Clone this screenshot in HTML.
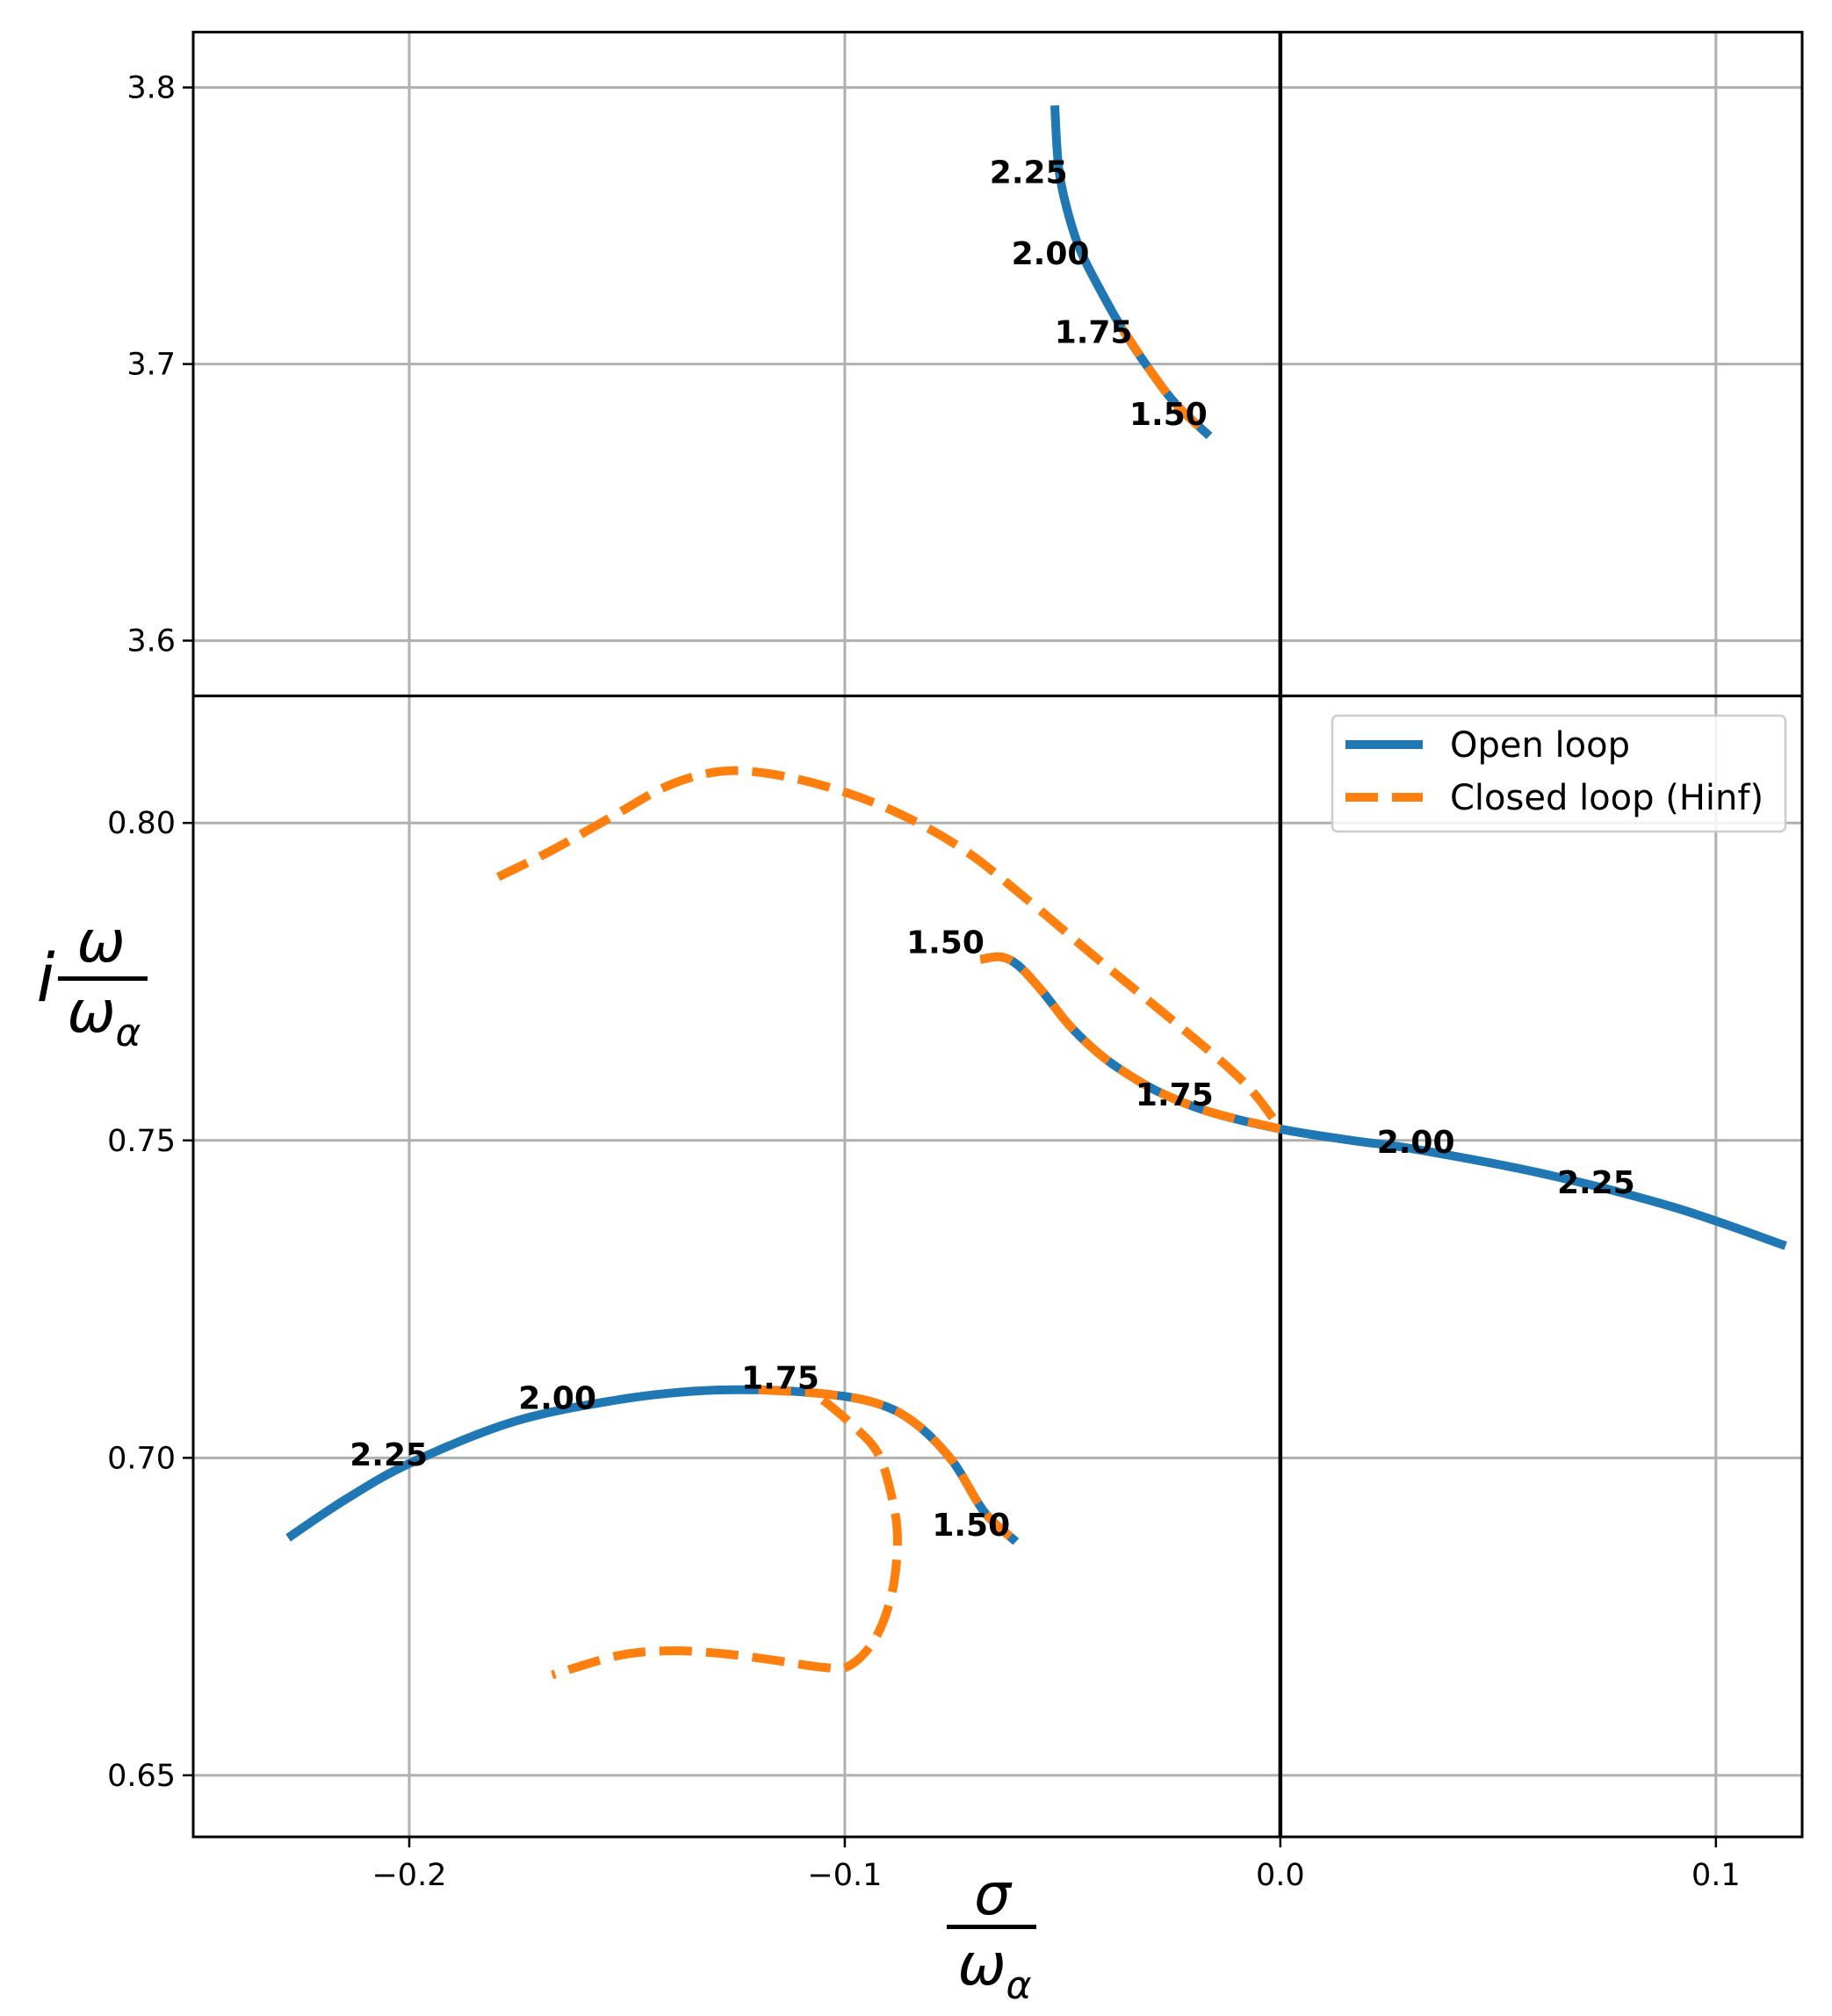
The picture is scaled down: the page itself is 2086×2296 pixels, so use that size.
<!DOCTYPE html>
<html><head><meta charset="utf-8"><style>
html,body{margin:0;padding:0;background:#fff;}
svg{display:block;font-family:"DejaVu Sans","Liberation Sans",sans-serif;}
</style></head><body>
<svg id="chart" width="2086" height="2296" viewBox="0 0 2086 2296" xmlns="http://www.w3.org/2000/svg">
<g id="layer"></g>
</svg>
<script>
const xTicks=[-0.2,-0.1,0.0,0.1];
const xTickLabels=["\u22120.2","\u22120.1","0.0","0.1"];
const topYTicks=[3.6,3.7,3.8];
const topYTickLabels=["3.6","3.7","3.8"];
const botYTicks=[0.65,0.70,0.75,0.80];
const botYTickLabels=["0.65","0.70","0.75","0.80"];
// top panel
const topOpenX=[-0.0518,-0.0509,-0.0488,-0.0459,-0.0414,-0.0364,-0.0296,-0.0237,-0.0163];
const topOpenY=[3.7935,3.771,3.755,3.741,3.727,3.713,3.697,3.685,3.674];
const topClosedX=[-0.0364,-0.0296,-0.0237,-0.0163];
const topClosedY=[3.713,3.697,3.685,3.674];
// bottom panel right branch
const rOpenX=[-0.0689,-0.0642,-0.0601,-0.0547,-0.0488,-0.0429,-0.0370,-0.0281,-0.0163,0,0.0163,0.0311,0.0607,0.0902,0.116];
const rOpenY=[0.7785,0.7789,0.7775,0.7735,0.7684,0.7644,0.7613,0.7577,0.7545,0.7518,0.7500,0.7486,0.7447,0.7395,0.7334];
const rClosedX=[-0.0689,-0.0642,-0.0601,-0.0547,-0.0488,-0.0429,-0.0370,-0.0281,-0.0163,0];
const rClosedY=[0.7785,0.7789,0.7775,0.7735,0.7684,0.7644,0.7613,0.7577,0.7545,0.7518];
const uClosedX=[-0.1796,-0.1672,-0.1524,-0.1405,-0.1287,-0.1169,-0.1021,-0.0873,-0.0725,-0.0577,-0.0429,-0.0281,-0.0133,-0.0059,0];
const uClosedY=[0.7915,0.7957,0.8014,0.8059,0.8081,0.8077,0.8053,0.8014,0.7957,0.7877,0.7791,0.7708,0.7623,0.7573,0.7518];
// bottom panel left branch
const lOpenX=[-0.2278,-0.2145,-0.1997,-0.1760,-0.1524,-0.1346,-0.1198,-0.1050,-0.0932,-0.0843,-0.0754,-0.0680,-0.0607];
const lOpenY=[0.6874,0.6935,0.6992,0.7057,0.7091,0.7105,0.7107,0.7101,0.7087,0.7057,0.6996,0.6915,0.6868];
const lClosedX=[-0.1198,-0.1050,-0.0932,-0.0843,-0.0754,-0.0680,-0.0607];
const lClosedY=[0.7107,0.7101,0.7087,0.7057,0.6996,0.6915,0.6868];
const bClosedX=[-0.1050,-0.0991,-0.0923,-0.0888,-0.0879,-0.0893,-0.0932,-0.0991,-0.1050,-0.1169,-0.1287,-0.1405,-0.1524,-0.1672];
const bClosedY=[0.7091,0.7057,0.7006,0.6925,0.6864,0.6783,0.6713,0.6672,0.6670,0.6682,0.6692,0.6696,0.6688,0.6658];
// annotations
const topLabels=["2.25","2.00","1.75","1.50"];
const topLabelX=[-0.0578,-0.0528,-0.0429,-0.0257];
const topLabelY=[3.7695,3.7402,3.7118,3.6821];
const botLabels=["1.50","1.75","2.00","2.25","2.00","2.25","1.75","1.50"];
const botLabelX=[-0.0769,-0.0243,0.0311,0.0725,-0.1660,-0.2047,-0.1148,-0.0710];
const botLabelY=[0.7813,0.7573,0.7498,0.7435,0.7095,0.7006,0.7127,0.6895];

const L=220,R=2052,T=36.6,MID=792.6,B=2092;
const xmin=-0.2496,xmax=0.1198;
const X=v=>L+(v-xmin)/(xmax-xmin)*(R-L);
const Yt=v=>T+(3.82-v)/(3.82-3.58)*(MID-T);
const Yb=v=>MID+(0.82-v)/(0.82-0.6403)*(B-MID);
const NS="http://www.w3.org/2000/svg";
const layer=document.getElementById('layer');
function mk(tag,attrs,parent){const e=document.createElementNS(NS,tag);for(const k in attrs)e.setAttribute(k,attrs[k]);(parent||layer).appendChild(e);return e;}

xTicks.forEach((v,i)=>{
  const g=mk('line',{x1:X(v),x2:X(v),y1:T,y2:B,stroke:'#b0b0b0','stroke-width':3});
  
  
  const t=mk('line',{x1:X(v),x2:X(v),y1:B,y2:B+12,stroke:'#000','stroke-width':2.5});
  
  
  const lb=mk('text',{x:X(v),y:B+55,'text-anchor':'middle','font-size':35,fill:'#000'});
  lb.textContent=xTickLabels[i];
  
  
});
function yt(arr,labels,Yf){
  arr.forEach((v,i)=>{
    const g=mk('line',{x1:L,x2:R,y1:Yf(v),y2:Yf(v),stroke:'#b0b0b0','stroke-width':3});
    
    
    const t=mk('line',{x1:L-12,x2:L,y1:Yf(v),y2:Yf(v),stroke:'#000','stroke-width':2.5});
    
    
    const lb=mk('text',{x:L-20,y:Yf(v)+12,'text-anchor':'end','font-size':35,fill:'#000'});
    lb.textContent=labels[i];
    
    
  });
}
yt(topYTicks,topYTickLabels,Yt);
yt(botYTicks,botYTickLabels,Yb);

const z=mk('line',{x1:X(0),x2:X(0),y1:T,y2:B,stroke:'#000','stroke-width':4.5});



function path(xs,ys,Yf,color,dash,name){
  const P=xs.map((v,i)=>[X(v),Yf(ys[i])]);
  let d='M'+P[0][0].toFixed(1)+','+P[0][1].toFixed(1);
  for(let i=0;i<P.length-1;i++){
    const p0=P[i-1]||P[i],p1=P[i],p2=P[i+1],p3=P[i+2]||P[i+1];
    const c1=[p1[0]+(p2[0]-p0[0])/6,p1[1]+(p2[1]-p0[1])/6];
    const c2=[p2[0]-(p3[0]-p1[0])/6,p2[1]-(p3[1]-p1[1])/6];
    d+=' C'+c1[0].toFixed(1)+','+c1[1].toFixed(1)+' '+c2[0].toFixed(1)+','+c2[1].toFixed(1)+' '+p2[0].toFixed(1)+','+p2[1].toFixed(1);
  }
  const a={d:d,fill:'none',stroke:color,'stroke-width':10,'stroke-linejoin':'round'};
  if(dash){a['stroke-dasharray']='37,16';}
  const p=mk('path',a);
  
  
}
const BLUE='#1f77b4',OR='#ff7f0e';
path(topOpenX,topOpenY,Yt,BLUE,false,'open-loop-top');
path(topClosedX,topClosedY,Yt,OR,true,'closed-loop-top');
path(rOpenX,rOpenY,Yb,BLUE,false,'open-loop-right');
path(lOpenX,lOpenY,Yb,BLUE,false,'open-loop-left');
path(rClosedX,rClosedY,Yb,OR,true,'closed-loop-right');
path(uClosedX,uClosedY,Yb,OR,true,'closed-loop-upper');
path(lClosedX,lClosedY,Yb,OR,true,'closed-loop-left');
path(bClosedX,bClosedY,Yb,OR,true,'closed-loop-lower');

function labs(ls,xs,ys,Yf){
  ls.forEach((s,i)=>{
    const t=mk('text',{x:X(xs[i]),y:Yf(ys[i])+13,'text-anchor':'middle','font-size':36,'font-weight':'bold',fill:'#000'});
    t.textContent=s;
    
    
  });
}
labs(topLabels,topLabelX,topLabelY,Yt);
labs(botLabels,botLabelX,botLabelY,Yb);

const f1=mk('rect',{x:L,y:T,width:R-L,height:MID-T,fill:'none',stroke:'#000','stroke-width':3});


const f2=mk('rect',{x:L,y:MID,width:R-L,height:B-MID,fill:'none',stroke:'#000','stroke-width':3});



const lg=mk('g',{});


mk('rect',{x:1517,y:815,width:516,height:132,rx:6,fill:'#fff','fill-opacity':0.85,stroke:'#ccc','stroke-width':2.5},lg);
const l1=mk('line',{x1:1532,x2:1620,y1:848,y2:848,stroke:BLUE,'stroke-width':10},lg);


const t1=mk('text',{x:1651,y:862,'font-size':40,fill:'#000'},lg);t1.textContent='Open loop';


const l2=mk('line',{x1:1532,x2:1620,y1:908,y2:908,stroke:OR,'stroke-width':10,'stroke-dasharray':'37,16'},lg);


const t2=mk('text',{x:1651,y:922,'font-size':40,fill:'#000'},lg);t2.textContent='Closed loop (Hinf)';



const xl=mk('g',{});


mk('text',{x:1130,y:2180,'text-anchor':'middle','font-size':66,'font-style':'italic',fill:'#000'},xl).textContent='σ';
mk('rect',{x:1078,y:2192,width:102,height:5,fill:'#000'},xl);
mk('text',{x:1118,y:2260,'text-anchor':'middle','font-size':66,'font-style':'italic',fill:'#000'},xl).textContent='ω';
mk('text',{x:1160,y:2276,'text-anchor':'middle','font-size':44,'font-style':'italic',fill:'#000'},xl).textContent='α';
const yl=mk('g',{});


mk('text',{x:52,y:1140,'text-anchor':'middle','font-size':76,'font-style':'italic',fill:'#000'},yl).textContent='i';
mk('text',{x:115,y:1095,'text-anchor':'middle','font-size':66,'font-style':'italic',fill:'#000'},yl).textContent='ω';
mk('rect',{x:66,y:1112,width:102,height:5,fill:'#000'},yl);
mk('text',{x:104,y:1175,'text-anchor':'middle','font-size':66,'font-style':'italic',fill:'#000'},yl).textContent='ω';
mk('text',{x:146,y:1191,'text-anchor':'middle','font-size':44,'font-style':'italic',fill:'#000'},yl).textContent='α';
</script>
</body></html>
